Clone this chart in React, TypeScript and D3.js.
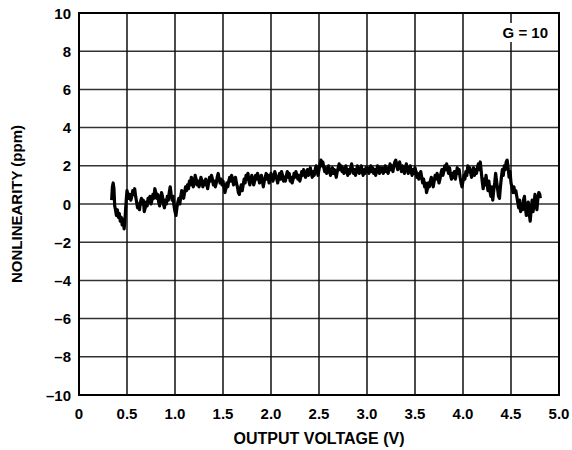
import React from "react";
import * as d3 from "d3";

const xTicks = [0, 0.5, 1.0, 1.5, 2.0, 2.5, 3.0, 3.5, 4.0, 4.5, 5.0];
const xTickLabels = ["0", "0.5", "1.0", "1.5", "2.0", "2.5", "3.0", "3.5", "4.0", "4.5", "5.0"];
const yTicks = [-10, -8, -6, -4, -2, 0, 2, 4, 6, 8, 10];
const yTickLabels = ["–10", "–8", "–6", "–4", "–2", "0", "2", "4", "6", "8", "10"];

// [output voltage (V), nonlinearity (ppm)]
const nonlinearity: [number, number][] = [
  [0.34, 0.2], [0.348, 0.9], [0.356, 1.1], [0.364, 0.8], [0.372, -0.1], [0.38, -0.3], [0.39, -0.6], [0.4, -0.3],
  [0.41, -0.7], [0.42, -0.5], [0.43, -0.9], [0.44, -0.7], [0.45, -1.1], [0.46, -0.8], [0.47, -1.3], [0.478, -0.9],
  [0.485, -0.3], [0.492, 0.2], [0.5, 0.7],
  [0.51, 0.5], [0.52, 0.3], [0.53, 0.5], [0.54, 0.2], [0.55, 0.4], [0.56, 0.7], [0.57, 0.5], [0.58, 0.8], [0.59, 0.4],
  [0.6, 0.1], [0.61, -0.2], [0.62, 0.0], [0.63, -0.3], [0.64, 0.1], [0.65, 0.3], [0.66, 0.0], [0.67, 0.2], [0.68, -0.4],
  [0.69, -0.2], [0.7, 0.1], [0.71, -0.1], [0.72, 0.3], [0.73, 0.1], [0.74, 0.4], [0.75, 0.0], [0.76, 0.2], [0.77, 0.5],
  [0.78, 0.3], [0.79, 0.8], [0.8, 0.6], [0.81, 0.3], [0.82, 0.5], [0.83, 0.1], [0.84, -0.1], [0.85, 0.3], [0.86, 0.6],
  [0.87, 0.4], [0.88, 0.0], [0.89, -0.2], [0.9, 0.2], [0.91, 0.0], [0.92, 0.4], [0.93, 0.2], [0.94, 0.6], [0.95, 0.9],
  [0.96, 0.5], [0.97, 0.2], [0.98, 0.4], [0.99, -0.1], [1.0, -0.4], [1.01, -0.6], [1.02, -0.2], [1.03, 0.1],
  [1.04, 0.3], [1.05, 0.0], [1.06, 0.4], [1.07, 0.7], [1.08, 0.5], [1.09, 0.3], [1.1, 0.6], [1.11, 0.9], [1.12, 0.7],
  [1.13, 1.0], [1.14, 0.8], [1.15, 1.2], [1.16, 1.0], [1.17, 1.4], [1.18, 1.2], [1.19, 0.9], [1.2, 1.1], [1.21, 1.5],
  [1.22, 1.3], [1.23, 1.0], [1.24, 1.2], [1.25, 0.9], [1.26, 1.1], [1.27, 1.4], [1.28, 1.2], [1.29, 0.9], [1.3, 1.2],
  [1.31, 1.0], [1.32, 1.3], [1.33, 1.1], [1.34, 0.8], [1.35, 1.1], [1.36, 1.4], [1.37, 1.2], [1.38, 1.5], [1.39, 1.3],
  [1.4, 1.0], [1.41, 1.2], [1.42, 0.9], [1.43, 1.1], [1.44, 1.4], [1.45, 1.6], [1.46, 1.3], [1.47, 1.1], [1.48, 1.3],
  [1.49, 1.0], [1.5, 1.2], [1.51, 0.9], [1.52, 0.6], [1.53, 0.8], [1.54, 1.1], [1.55, 0.9], [1.56, 1.2], [1.57, 1.4],
  [1.58, 1.2], [1.59, 1.5], [1.6, 1.3], [1.61, 1.0], [1.62, 1.2], [1.63, 1.4], [1.64, 1.1], [1.65, 0.9], [1.66, 0.6],
  [1.67, 0.5], [1.68, 0.8], [1.69, 1.0], [1.7, 0.7], [1.71, 1.0], [1.72, 1.3], [1.73, 1.1], [1.74, 1.5], [1.75, 1.3],
  [1.76, 1.6], [1.77, 1.2], [1.78, 1.0], [1.79, 1.3], [1.8, 1.5],
  [1.81, 1.3], [1.82, 1.0], [1.83, 1.2], [1.84, 1.5], [1.85, 1.3], [1.86, 1.6], [1.87, 1.4], [1.88, 1.1], [1.89, 1.3],
  [1.9, 1.5], [1.91, 1.2], [1.92, 0.9], [1.93, 1.2], [1.94, 1.4], [1.95, 1.6], [1.96, 1.3], [1.97, 1.5], [1.98, 1.1],
  [1.99, 1.3], [2.0, 1.6], [2.01, 1.4], [2.02, 1.2], [2.03, 1.4], [2.04, 1.7], [2.05, 1.5], [2.06, 1.3], [2.07, 1.1],
  [2.08, 1.4], [2.09, 1.6], [2.1, 1.3], [2.11, 1.7], [2.12, 1.5], [2.13, 1.2], [2.14, 1.4], [2.15, 1.2], [2.16, 1.5],
  [2.17, 1.7], [2.18, 1.4], [2.19, 1.6], [2.2, 1.2], [2.21, 1.4], [2.22, 1.1], [2.23, 1.3], [2.24, 1.6], [2.25, 1.4],
  [2.26, 1.7], [2.27, 1.5], [2.28, 1.3], [2.29, 1.5], [2.3, 1.2], [2.31, 1.4], [2.32, 1.7], [2.33, 1.5], [2.34, 1.8],
  [2.35, 1.6], [2.36, 1.4], [2.37, 1.6], [2.38, 1.8], [2.39, 1.5], [2.4, 1.7], [2.41, 1.9], [2.42, 1.6], [2.43, 1.4],
  [2.44, 1.7], [2.45, 1.5], [2.46, 1.8], [2.47, 2.0], [2.48, 1.7], [2.49, 1.5], [2.5, 1.8], [2.51, 2.1], [2.52, 2.3],
  [2.53, 2.0], [2.54, 2.2], [2.55, 1.9],
  [2.56, 1.7], [2.57, 1.9], [2.58, 1.6], [2.59, 1.8], [2.6, 2.0], [2.61, 1.7], [2.62, 1.5], [2.63, 1.7], [2.64, 1.9],
  [2.65, 1.6], [2.66, 1.8], [2.67, 1.6], [2.68, 1.4], [2.69, 1.7], [2.7, 1.9], [2.71, 2.1], [2.72, 1.8], [2.73, 2.0],
  [2.74, 1.7], [2.75, 1.9], [2.76, 1.6], [2.77, 1.8], [2.78, 2.0], [2.79, 1.7], [2.8, 1.5], [2.81, 1.8], [2.82, 1.6],
  [2.83, 1.9], [2.84, 2.1], [2.85, 1.8], [2.86, 1.6], [2.87, 1.8], [2.88, 1.5], [2.89, 1.7], [2.9, 2.0], [2.91, 1.8],
  [2.92, 1.6], [2.93, 1.8], [2.94, 2.0], [2.95, 1.7], [2.96, 1.5], [2.97, 1.8], [2.98, 1.6], [2.99, 1.9], [3.0, 1.7],
  [3.01, 1.9], [3.02, 1.6], [3.03, 1.8], [3.04, 2.0], [3.05, 1.7], [3.06, 1.9], [3.07, 1.6], [3.08, 1.8], [3.09, 1.5],
  [3.1, 1.7], [3.11, 2.0], [3.12, 1.8], [3.13, 1.6], [3.14, 1.9], [3.15, 1.7], [3.16, 1.9], [3.17, 1.6], [3.18, 1.8],
  [3.19, 2.0], [3.2, 1.7], [3.21, 1.9], [3.22, 1.6], [3.23, 1.8], [3.24, 2.1], [3.25, 1.8], [3.26, 2.0], [3.27, 1.7],
  [3.28, 2.0], [3.29, 2.2], [3.3, 2.3], [3.31, 2.0], [3.32, 1.8], [3.33, 2.1], [3.34, 2.2], [3.35, 1.9], [3.36, 1.7],
  [3.37, 2.0], [3.38, 1.8], [3.39, 1.6], [3.4, 1.9], [3.41, 2.1], [3.42, 1.8], [3.43, 1.6], [3.44, 1.8], [3.45, 2.0],
  [3.46, 1.7], [3.47, 1.5], [3.48, 1.8], [3.49, 1.6], [3.5, 1.9],
  [3.51, 1.7], [3.52, 1.4], [3.53, 1.6], [3.54, 1.3], [3.55, 1.5], [3.56, 1.7], [3.57, 1.4], [3.58, 1.1], [3.59, 1.3],
  [3.6, 0.9], [3.61, 1.1], [3.62, 0.6], [3.63, 0.8], [3.64, 1.1], [3.65, 0.9], [3.66, 1.2], [3.67, 1.4], [3.68, 1.1],
  [3.69, 0.9], [3.7, 1.2], [3.71, 1.5], [3.72, 1.3], [3.73, 1.6], [3.74, 1.4], [3.75, 1.1], [3.76, 1.3], [3.77, 1.6],
  [3.78, 1.8], [3.79, 1.5], [3.8, 1.7], [3.81, 2.0], [3.82, 1.8], [3.83, 2.1], [3.84, 1.8], [3.85, 1.6], [3.86, 1.9],
  [3.87, 1.5], [3.88, 1.3], [3.89, 1.6], [3.9, 1.4], [3.91, 1.7], [3.92, 1.3], [3.93, 1.6], [3.94, 1.9], [3.95, 1.6],
  [3.96, 1.8], [3.97, 1.4], [3.98, 1.1], [3.99, 0.9], [4.0, 1.2], [4.01, 1.5], [4.02, 1.3], [4.03, 1.7], [4.04, 1.5],
  [4.05, 2.0], [4.06, 1.7], [4.07, 1.9], [4.08, 1.6], [4.09, 1.4], [4.1, 1.7], [4.11, 1.9], [4.12, 1.5], [4.13, 1.8],
  [4.14, 1.6], [4.15, 1.9], [4.16, 2.1], [4.17, 1.8], [4.18, 2.2], [4.19, 1.7], [4.2, 1.2], [4.21, 0.8], [4.22, 1.3],
  [4.23, 1.0], [4.24, 1.5], [4.25, 1.1], [4.26, 0.7], [4.27, 1.2], [4.28, 0.7], [4.29, 0.4], [4.3, 0.9], [4.31, 0.2],
  [4.32, 0.7], [4.33, 1.1], [4.34, 1.6], [4.35, 1.2], [4.36, 0.8], [4.37, 0.4], [4.38, 0.3], [4.39, 0.9], [4.4, 1.4],
  [4.41, 1.8], [4.42, 1.5], [4.43, 2.0], [4.44, 1.8], [4.45, 2.2], [4.46, 2.3], [4.47, 1.9], [4.48, 1.4], [4.49, 1.7],
  [4.5, 1.1], [4.51, 0.9], [4.52, 0.6], [4.53, 0.9], [4.54, 0.6], [4.55, 0.7], [4.56, 0.4], [4.57, 0.1], [4.58, -0.2],
  [4.59, 0.2], [4.6, -0.4], [4.61, 0.0], [4.62, -0.3], [4.63, 0.2], [4.64, 0.4], [4.65, -0.2], [4.66, -0.6], [4.67, -0.2],
  [4.68, 0.1], [4.69, -0.5], [4.7, -0.9], [4.71, -0.3], [4.72, 0.2], [4.73, -0.4], [4.74, 0.0], [4.75, 0.5], [4.76, 0.0],
  [4.77, -0.3], [4.78, 0.3], [4.79, 0.6], [4.8, 0.5], [4.805, 0.3],
];

const W = 572;
const H = 450;
const M = { left: 79, right: 13, top: 13, bottom: 55 };

export default function App() {
  const x = d3.scaleLinear().domain([0, 5]).range([M.left, W - M.right]);
  const y = d3.scaleLinear().domain([-10, 10]).range([H - M.bottom, M.top]);
  const line = d3
    .line<[number, number]>()
    .x((d) => x(d[0]))
    .y((d) => y(d[1]));
  const font = "'Liberation Sans', Arial, sans-serif";
  return (
    <svg
      width={W}
      height={H}
      style={{ position: "absolute", left: 0, top: 0, background: "#fff" }}
      fontFamily={font}
      fontWeight="bold"
    >
      <rect x={0} y={0} width={W} height={H} fill="#fff" />
      {yTicks.map((t) => (
        <line key={"h" + t} x1={x(0)} x2={x(5)} y1={y(t)} y2={y(t)} stroke="#333" strokeWidth={1.5} />
      ))}
      {xTicks.map((t) => (
        <line key={"v" + t} x1={x(t)} x2={x(t)} y1={y(-10)} y2={y(10)} stroke="#111" strokeWidth={1.5} />
      ))}
      <rect x={500} y={23} width={50} height={19} fill="#fff" />
      <text x={548} y={38} textAnchor="end" fontSize={15}>
        G = 10
      </text>
      <path d={line(nonlinearity) || ""} fill="none" stroke="#000" strokeWidth={3.2} strokeLinejoin="round" />
      <rect
        x={x(0)}
        y={y(10)}
        width={x(5) - x(0)}
        height={y(-10) - y(10)}
        fill="none"
        stroke="#000"
        strokeWidth={2}
      />
      {yTicks.map((t, i) => (
        <text key={"yl" + t} x={71} y={y(t) + 5.5} textAnchor="end" fontSize={15}>
          {yTickLabels[i]}
        </text>
      ))}
      {xTicks.map((t, i) => (
        <text key={"xl" + t} x={x(t)} y={419} textAnchor="middle" fontSize={15}>
          {xTickLabels[i]}
        </text>
      ))}
      <text x={319} y={444} textAnchor="middle" fontSize={16}>
        OUTPUT VOLTAGE (V)
      </text>
      <text x={0} y={0} transform={`translate(22,${y(0)}) rotate(-90)`} textAnchor="middle" fontSize={15}>
        NONLINEARITY (ppm)
      </text>
    </svg>
  );
}
